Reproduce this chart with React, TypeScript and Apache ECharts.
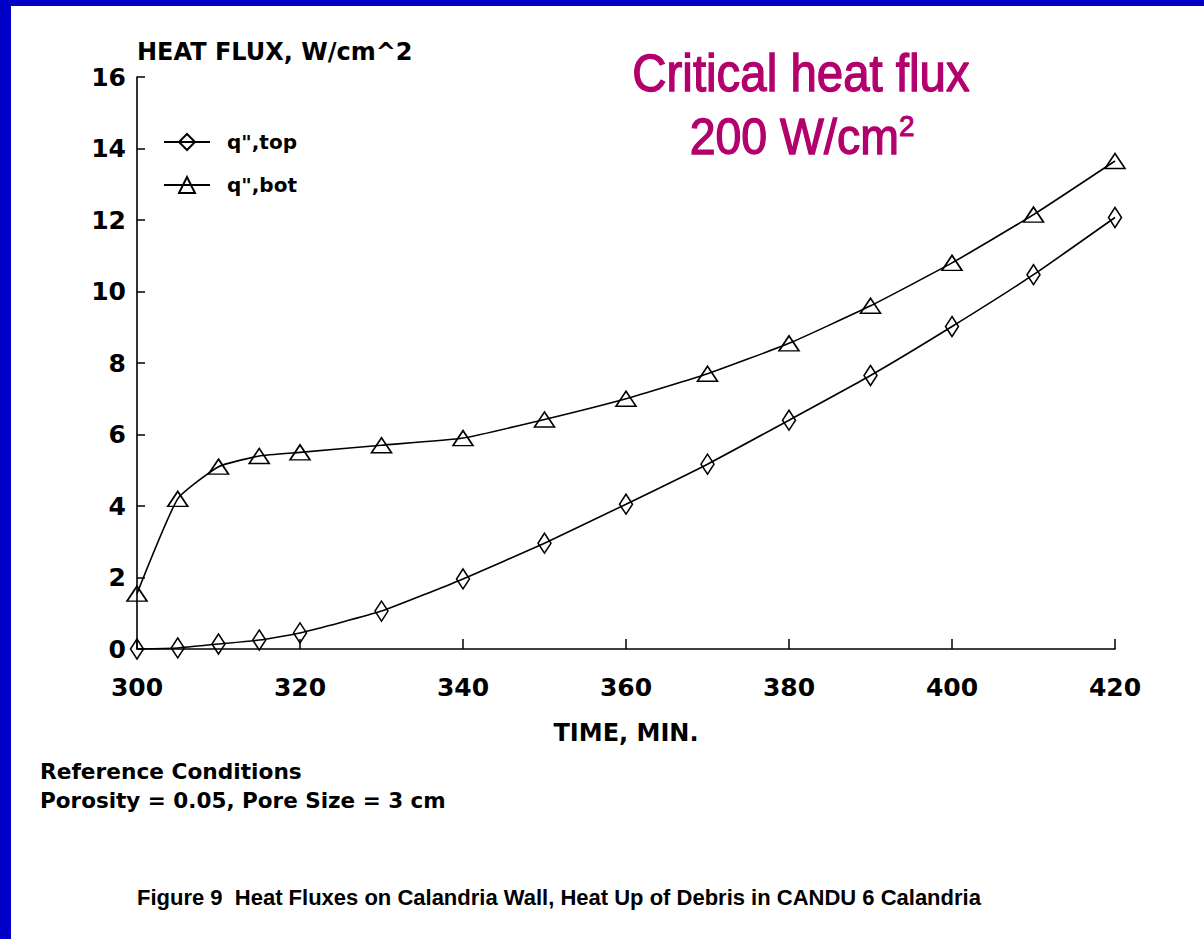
import React, { useEffect, useRef } from "react";
import * as echarts from "echarts";

const times = [300, 305, 310, 315, 320, 330, 340, 350, 360, 370, 380, 390, 400, 410, 420];
const qTop = [0, 0.03, 0.14, 0.25, 0.45, 1.06, 1.96, 2.96, 4.05, 5.17, 6.4, 7.65, 9.02, 10.47, 12.07];
const qBot = [1.55, 4.2, 5.1, 5.4, 5.5, 5.7, 5.9, 6.42, 7.0, 7.7, 8.55, 9.6, 10.8, 12.15, 13.65];
const seriesNames = ['q",top', 'q",bot'];
const yAxisTitle = "HEAT FLUX, W/cm^2";
const xAxisTitle = "TIME, MIN.";
const noteLines = ["Reference Conditions", "Porosity = 0.05, Pore Size = 3 cm"];
const caption = "Figure 9  Heat Fluxes on Calandria Wall, Heat Up of Debris in CANDU 6 Calandria";
const annotation1 = "Critical heat flux";
const annotation2 = "200 W/cm{sup|2}";

const SCAN_FONT = "'DejaVu Sans', sans-serif";
const MAGENTA = "#B2006C";
const BLUE = "#0000C8";

export default function App() {
  const ref = useRef<HTMLDivElement>(null);
  useEffect(() => {
    if (!ref.current) return;
    const chart = echarts.init(ref.current, undefined, { renderer: "svg" });
    const pair = (ys: number[]) => times.map((t, i) => [t, ys[i]]);
    chart.setOption({
      animation: false,
      backgroundColor: "#ffffff",
      grid: { left: 137, top: 77, width: 978, height: 572, containLabel: false },
      xAxis: {
        type: "value",
        min: 300,
        max: 420,
        interval: 20,
        name: xAxisTitle,
        nameLocation: "middle",
        nameGap: 72,
        nameTextStyle: { fontFamily: SCAN_FONT, fontWeight: "bold", fontSize: 24, color: "#000" },
        axisLine: { show: true, lineStyle: { color: "#000", width: 1.6 } },
        axisTick: { show: true, inside: true, length: 10, lineStyle: { color: "#000", width: 1.5 } },
        axisLabel: { fontFamily: SCAN_FONT, fontWeight: "bold", fontSize: 25, color: "#000", margin: 26 },
        splitLine: { show: false },
      },
      yAxis: {
        type: "value",
        min: 0,
        max: 16,
        interval: 2,
        name: yAxisTitle,
        nameLocation: "end",
        nameGap: 25,
        nameTextStyle: {
          fontFamily: SCAN_FONT,
          fontWeight: "bold",
          fontSize: 24,
          color: "#000",
          align: "left",
          verticalAlign: "middle",
        },
        axisLine: { show: true, lineStyle: { color: "#000", width: 1.6 } },
        axisTick: { show: true, inside: true, length: 8, lineStyle: { color: "#000", width: 1.5 } },
        axisLabel: { fontFamily: SCAN_FONT, fontWeight: "bold", fontSize: 25, color: "#000", margin: 11 },
        splitLine: { show: false },
      },
      legend: {
        orient: "vertical",
        left: 158,
        top: 127,
        itemWidth: 46,
        itemHeight: 20,
        itemGap: 23,
        data: seriesNames,
        textStyle: {
          fontFamily: SCAN_FONT,
          fontWeight: "bold",
          fontSize: 20,
          color: "#000",
          padding: [0, 0, 0, 12],
        },
      },
      series: [
        {
          name: seriesNames[0],
          type: "line",
          data: pair(qTop),
          symbol: "diamond",
          symbolSize: [13, 20],
          lineStyle: { color: "#000", width: 1.6 },
          itemStyle: { color: "rgba(255,255,255,0)", borderColor: "#000", borderWidth: 1.6 },
          smooth: 0.15,
        },
        {
          name: seriesNames[1],
          type: "line",
          data: pair(qBot),
          symbol: "triangle",
          symbolSize: [20, 15],
          lineStyle: { color: "#000", width: 1.6 },
          itemStyle: { color: "rgba(255,255,255,0)", borderColor: "#000", borderWidth: 1.6 },
          smooth: 0.15,
        },
      ],
      graphic: [
        { type: "rect", left: 0, top: 0, shape: { width: 1204, height: 6 }, style: { fill: BLUE }, silent: true },
        { type: "rect", left: 0, top: 0, shape: { width: 11, height: 939 }, style: { fill: BLUE }, silent: true },
        {
          type: "text",
          x: 801,
          y: 73,
          scaleX: 0.93,
          style: {
            text: annotation1,
            fill: MAGENTA,
            stroke: MAGENTA,
            lineWidth: 1.3,
            font: "51px 'Liberation Sans', Arial, sans-serif",
            textAlign: "center",
            textVerticalAlign: "middle",
          },
        },
        {
          type: "text",
          x: 802,
          y: 136,
          scaleX: 0.93,
          style: {
            text: annotation2,
            fill: MAGENTA,
            stroke: MAGENTA,
            lineWidth: 1.3,
            font: "50px 'Liberation Sans', Arial, sans-serif",
            textAlign: "center",
            textVerticalAlign: "middle",
            rich: {
              sup: {
                fontSize: 30,
                fontFamily: "'Liberation Sans', Arial, sans-serif",
                fill: MAGENTA,
                stroke: MAGENTA,
                lineWidth: 1,
                verticalAlign: "top",
              },
            },
          },
        },
        {
          type: "text",
          x: 40,
          y: 771,
          style: {
            text: noteLines[0],
            fill: "#000",
            font: `bold 21.7px ${SCAN_FONT}`,
            textAlign: "left",
            textVerticalAlign: "middle",
          },
        },
        {
          type: "text",
          x: 40,
          y: 800,
          style: {
            text: noteLines[1],
            fill: "#000",
            font: `bold 21.5px ${SCAN_FONT}`,
            textAlign: "left",
            textVerticalAlign: "middle",
          },
        },
        {
          type: "text",
          x: 137,
          y: 897,
          style: {
            text: caption,
            fill: "#000",
            font: "bold 22px 'Liberation Sans', Arial, sans-serif",
            textAlign: "left",
            textVerticalAlign: "middle",
          },
        },
      ],
    });
    return () => chart.dispose();
  }, []);
  return (
    <div
      ref={ref}
      style={{ position: "absolute", left: 0, top: 0, width: 1204, height: 939, background: "#fff" }}
    />
  );
}
